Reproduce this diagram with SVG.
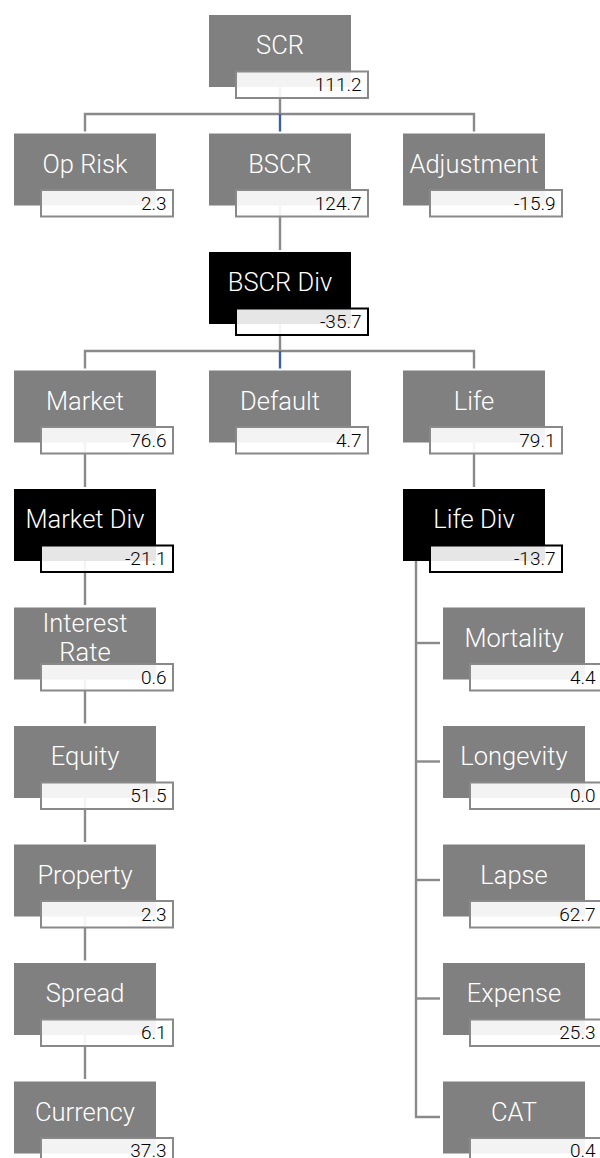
<svg xmlns="http://www.w3.org/2000/svg" width="600" height="1158" viewBox="0 0 600 1158">
<style>
.n{fill:#808080}
.d{fill:#000}
.v{fill:#fff;fill-opacity:0.9;stroke:#898989;stroke-width:2}
.vd{fill:#fff;fill-opacity:0.9;stroke:#000;stroke-width:2}
.t{font-family:Roboto,"Liberation Sans",sans-serif;font-weight:300;font-size:25.5px;fill:#fff;text-anchor:middle}
.num{font-family:Roboto,"Liberation Sans",sans-serif;font-weight:300;font-size:19px;fill:#000;text-anchor:end}
.c{fill:none;stroke:#8a8a8a;stroke-width:2.4}
.b{fill:none;stroke:#3d5fa8;stroke-width:2.4}
</style>
<rect width="600" height="1158" fill="#fff"/>
<g id="connectors">
<path class="c" d="M280,87 V114"/>
<path class="c" d="M85,131.5 V114 H474 V131.5"/>
<path class="b" d="M280,114 V131.5"/>
<path class="c" d="M280,205.5 V250"/>
<path class="c" d="M280,324 V351"/>
<path class="c" d="M85,368.5 V351 H474 V368.5"/>
<path class="b" d="M280,351 V368.5"/>
<path class="c" d="M85,442.5 V487"/>
<path class="c" d="M474,442.5 V487"/>
<path class="c" d="M85,561 V605"/>
<path class="c" d="M85,679.5 V723.5"/>
<path class="c" d="M85,798 V842"/>
<path class="c" d="M85,916.5 V960.5"/>
<path class="c" d="M85,1035 V1079"/>
<path class="c" d="M416,561 V1117 H440"/>
<path class="c" d="M416,643 H440"/>
<path class="c" d="M416,761.5 H440"/>
<path class="c" d="M416,880 H440"/>
<path class="c" d="M416,998.5 H440"/>
</g>
<g id="scr"><rect class="n" x="209" y="15" width="142" height="72"/><text class="t" x="280" y="54">SCR</text><rect class="v" x="236" y="71.5" width="132" height="26.5"/><text class="num" x="361.5" y="91">111.2</text></g>
<g id="oprisk"><rect class="n" x="14" y="133.5" width="142" height="72"/><text class="t" x="85" y="172.5">Op Risk</text><rect class="v" x="41" y="190" width="132" height="26.5"/><text class="num" x="166.5" y="209.5">2.3</text></g>
<g id="bscr"><rect class="n" x="209" y="133.5" width="142" height="72"/><text class="t" x="280" y="172.5">BSCR</text><rect class="v" x="236" y="190" width="132" height="26.5"/><text class="num" x="361.5" y="209.5">124.7</text></g>
<g id="adjustment"><rect class="n" x="403" y="133.5" width="142" height="72"/><text class="t" x="474" y="172.5">Adjustment</text><rect class="v" x="430" y="190" width="132" height="26.5"/><text class="num" x="555.5" y="209.5">-15.9</text></g>
<g id="bscrdiv"><rect class="d" x="209" y="252" width="142" height="72"/><text class="t" x="280" y="291">BSCR Div</text><rect class="vd" x="236" y="308.5" width="132" height="26.5"/><text class="num" x="361.5" y="328">-35.7</text></g>
<g id="market"><rect class="n" x="14" y="370.5" width="142" height="72"/><text class="t" x="85" y="409.5">Market</text><rect class="v" x="41" y="427" width="132" height="26.5"/><text class="num" x="166.5" y="446.5">76.6</text></g>
<g id="default"><rect class="n" x="209" y="370.5" width="142" height="72"/><text class="t" x="280" y="409.5">Default</text><rect class="v" x="236" y="427" width="132" height="26.5"/><text class="num" x="361.5" y="446.5">4.7</text></g>
<g id="life"><rect class="n" x="403" y="370.5" width="142" height="72"/><text class="t" x="474" y="409.5">Life</text><rect class="v" x="430" y="427" width="132" height="26.5"/><text class="num" x="555.5" y="446.5">79.1</text></g>
<g id="marketdiv"><rect class="d" x="14" y="489" width="142" height="72"/><text class="t" x="85" y="528">Market Div</text><rect class="vd" x="41" y="545.5" width="132" height="26.5"/><text class="num" x="166.5" y="565">-21.1</text></g>
<g id="lifediv"><rect class="d" x="403" y="489" width="142" height="72"/><text class="t" x="474" y="528">Life Div</text><rect class="vd" x="430" y="545.5" width="132" height="26.5"/><text class="num" x="555.5" y="565">-13.7</text></g>
<g id="interestrate"><rect class="n" x="14" y="607.5" width="142" height="72"/><text class="t" x="85" y="631.5">Interest</text><text class="t" x="85" y="661">Rate</text><rect class="v" x="41" y="664" width="132" height="26.5"/><text class="num" x="166.5" y="683.5">0.6</text></g>
<g id="equity"><rect class="n" x="14" y="726" width="142" height="72"/><text class="t" x="85" y="765">Equity</text><rect class="v" x="41" y="782.5" width="132" height="26.5"/><text class="num" x="166.5" y="802">51.5</text></g>
<g id="property"><rect class="n" x="14" y="844.5" width="142" height="72"/><text class="t" x="85" y="883.5">Property</text><rect class="v" x="41" y="901" width="132" height="26.5"/><text class="num" x="166.5" y="920.5">2.3</text></g>
<g id="spread"><rect class="n" x="14" y="963" width="142" height="72"/><text class="t" x="85" y="1002">Spread</text><rect class="v" x="41" y="1019.5" width="132" height="26.5"/><text class="num" x="166.5" y="1039">6.1</text></g>
<g id="currency"><rect class="n" x="14" y="1081.5" width="142" height="72"/><text class="t" x="85" y="1120.5">Currency</text><rect class="v" x="41" y="1138" width="132" height="26.5"/><text class="num" x="166.5" y="1156.5">37.3</text></g>
<g id="mortality"><rect class="n" x="443" y="607.5" width="142" height="72"/><text class="t" x="514" y="646.5">Mortality</text><rect class="v" x="470" y="664" width="132" height="26.5"/><text class="num" x="595.5" y="683.5">4.4</text></g>
<g id="longevity"><rect class="n" x="443" y="726" width="142" height="72"/><text class="t" x="514" y="765">Longevity</text><rect class="v" x="470" y="782.5" width="132" height="26.5"/><text class="num" x="595.5" y="802">0.0</text></g>
<g id="lapse"><rect class="n" x="443" y="844.5" width="142" height="72"/><text class="t" x="514" y="883.5">Lapse</text><rect class="v" x="470" y="901" width="132" height="26.5"/><text class="num" x="595.5" y="920.5">62.7</text></g>
<g id="expense"><rect class="n" x="443" y="963" width="142" height="72"/><text class="t" x="514" y="1002">Expense</text><rect class="v" x="470" y="1019.5" width="132" height="26.5"/><text class="num" x="595.5" y="1039">25.3</text></g>
<g id="cat"><rect class="n" x="443" y="1081.5" width="142" height="72"/><text class="t" x="514" y="1120.5">CAT</text><rect class="v" x="470" y="1138" width="132" height="26.5"/><text class="num" x="595.5" y="1156.5">0.4</text></g>
</svg>
